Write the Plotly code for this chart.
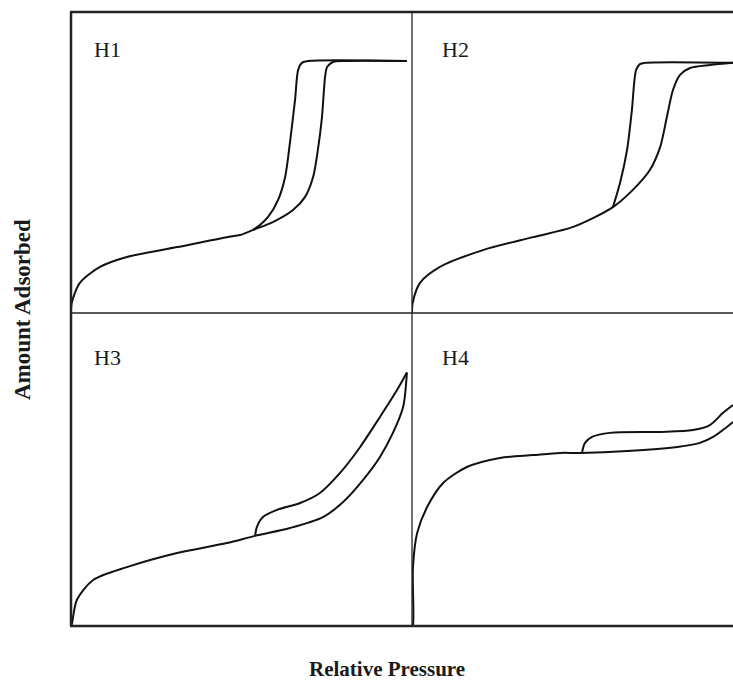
import plotly.graph_objects as go

W, H = 733, 683

# Panel labels
panel_labels = ["H1", "H2", "H3", "H4"]

# H1 (relative pressure fraction, amount adsorbed fraction)
h1_ads_x = [0.0, 0.002, 0.026, 0.085, 0.164, 0.311, 0.457, 0.496, 0.534, 0.592, 0.651, 0.686, 0.710, 0.724, 0.736, 0.745, 0.751, 0.768, 0.804, 0.985]
h1_ads_y = [0.0, 0.033, 0.100, 0.153, 0.186, 0.219, 0.252, 0.259, 0.276, 0.302, 0.342, 0.385, 0.452, 0.542, 0.651, 0.784, 0.817, 0.834, 0.837, 0.837]
h1_des_x = [0.985, 0.695, 0.677, 0.666, 0.657, 0.642, 0.628, 0.607, 0.578, 0.554, 0.534]
h1_des_y = [0.837, 0.837, 0.831, 0.807, 0.708, 0.565, 0.452, 0.375, 0.319, 0.292, 0.276]

# H2
h2_ads_x = [0.0, 0.002, 0.025, 0.087, 0.221, 0.377, 0.502, 0.626, 0.688, 0.741, 0.773, 0.794, 0.813, 0.835, 0.866, 0.928, 1.0]
h2_ads_y = [0.0, 0.033, 0.100, 0.153, 0.209, 0.252, 0.286, 0.352, 0.409, 0.475, 0.551, 0.651, 0.741, 0.791, 0.814, 0.824, 0.831]
h2_des_x = [1.0, 0.726, 0.710, 0.698, 0.685, 0.670, 0.648, 0.626]
h2_des_y = [0.831, 0.831, 0.827, 0.807, 0.674, 0.542, 0.432, 0.352]

# H3
h3_ads_x = [0.0, 0.002, 0.017, 0.065, 0.164, 0.311, 0.457, 0.540, 0.642, 0.739, 0.798, 0.856, 0.906, 0.944, 0.974, 0.985]
h3_ads_y = [0.0, 0.003, 0.083, 0.147, 0.188, 0.233, 0.265, 0.288, 0.313, 0.348, 0.396, 0.466, 0.540, 0.617, 0.700, 0.810]
h3_des_x = [0.985, 0.956, 0.906, 0.848, 0.789, 0.730, 0.672, 0.604, 0.563, 0.545, 0.540]
h3_des_y = [0.810, 0.754, 0.668, 0.572, 0.489, 0.425, 0.393, 0.371, 0.348, 0.316, 0.288]

# H4
h4_ads_x = [0.0, 0.003, 0.003, 0.016, 0.047, 0.097, 0.171, 0.274, 0.377, 0.461, 0.523, 0.670, 0.826, 0.897, 0.938, 0.981, 1.0]
h4_ads_y = [0.0, 0.003, 0.188, 0.297, 0.380, 0.457, 0.508, 0.537, 0.546, 0.553, 0.553, 0.559, 0.572, 0.585, 0.604, 0.636, 0.652]
h4_des_x = [1.0, 0.969, 0.928, 0.875, 0.773, 0.617, 0.561, 0.539, 0.530]
h4_des_y = [0.706, 0.681, 0.642, 0.626, 0.620, 0.617, 0.604, 0.585, 0.556]

panels = [
    (h1_ads_x, h1_ads_y, h1_des_x, h1_des_y),
    (h2_ads_x, h2_ads_y, h2_des_x, h2_des_y),
    (h3_ads_x, h3_ads_y, h3_des_x, h3_des_y),
    (h4_ads_x, h4_ads_y, h4_des_x, h4_des_y),
]

# pixel layout -> paper fractions
xl, xm, xr = 71, 412, 733
yt, ym, yb = 12, 313, 626
def px(x):
    return x / W
def py(y):
    return (H - y) / H

xdoms = [[px(xl), px(xm)], [px(xm), px(xr)], [px(xl), px(xm)], [px(xm), px(xr)]]
ydoms = [[py(ym), py(yt)], [py(ym), py(yt)], [py(yb), py(ym)], [py(yb), py(ym)]]

fig = go.Figure()
line = dict(color="#111111", width=2, shape="spline", smoothing=0.8)
for i, (ax, ay, dx, dy) in enumerate(panels):
    sfx = "" if i == 0 else str(i + 1)
    fig.add_trace(go.Scatter(x=ax, y=ay, mode="lines", line=line,
                             xaxis="x" + sfx, yaxis="y" + sfx, showlegend=False, hoverinfo="skip"))
    fig.add_trace(go.Scatter(x=dx, y=dy, mode="lines", line=line,
                             xaxis="x" + sfx, yaxis="y" + sfx, showlegend=False, hoverinfo="skip"))

axis_common = dict(range=[0, 1], showgrid=False, zeroline=False, showticklabels=False,
                   ticks="", showline=False, fixedrange=True)
layout = dict(width=W, height=H, margin=dict(l=0, r=0, t=0, b=0),
              paper_bgcolor="white", plot_bgcolor="white", showlegend=False)
for i in range(4):
    sfx = "" if i == 0 else str(i + 1)
    layout["xaxis" + sfx] = dict(domain=xdoms[i], anchor="y" + sfx, **axis_common)
    layout["yaxis" + sfx] = dict(domain=ydoms[i], anchor="x" + sfx, **axis_common)
fig.update_layout(**layout)

# panel labels
label_pos = [(92, 50), (440, 50), (92, 357), (440, 357)]
for lab, (lx, ly) in zip(panel_labels, label_pos):
    fig.add_annotation(x=px(lx), y=py(ly), xref="paper", yref="paper", text=lab,
                       showarrow=False, xanchor="left", yanchor="middle",
                       font=dict(family="Liberation Serif", size=22, color="#1a1a1a"))

# frame lines
def hline(y, x0, x1, w):
    fig.add_shape(type="line", xref="paper", yref="paper", x0=px(x0), x1=px(x1), y0=py(y), y1=py(y),
                  line=dict(color="#222222", width=w))
def vline(x, y0, y1, w):
    fig.add_shape(type="line", xref="paper", yref="paper", x0=px(x), x1=px(x), y0=py(y0), y1=py(y1),
                  line=dict(color="#222222", width=w))

hline(yt, xl - 1, xr, 2.5)
hline(yb, xl - 1, xr, 2.5)
hline(ym, xl, xr, 1.3)
vline(xl, yt, yb, 2.5)
vline(xm, yt, yb, 1.3)

# axis titles
fig.add_annotation(x=px(387), y=py(669), xref="paper", yref="paper", text="<b>Relative Pressure</b>",
                   showarrow=False, xanchor="center", yanchor="middle",
                   font=dict(family="Liberation Serif", size=21, color="#1a1a1a"))
fig.add_annotation(x=px(23), y=py(310), xref="paper", yref="paper", text="<b>Amount Adsorbed</b>",
                   showarrow=False, xanchor="center", yanchor="middle", textangle=-90,
                   font=dict(family="Liberation Serif", size=23, color="#1a1a1a"))

fig.write_html("out.html", config={"displayModeBar": False},
               post_script="document.body.style.margin='0px';document.body.style.padding='0px';")
